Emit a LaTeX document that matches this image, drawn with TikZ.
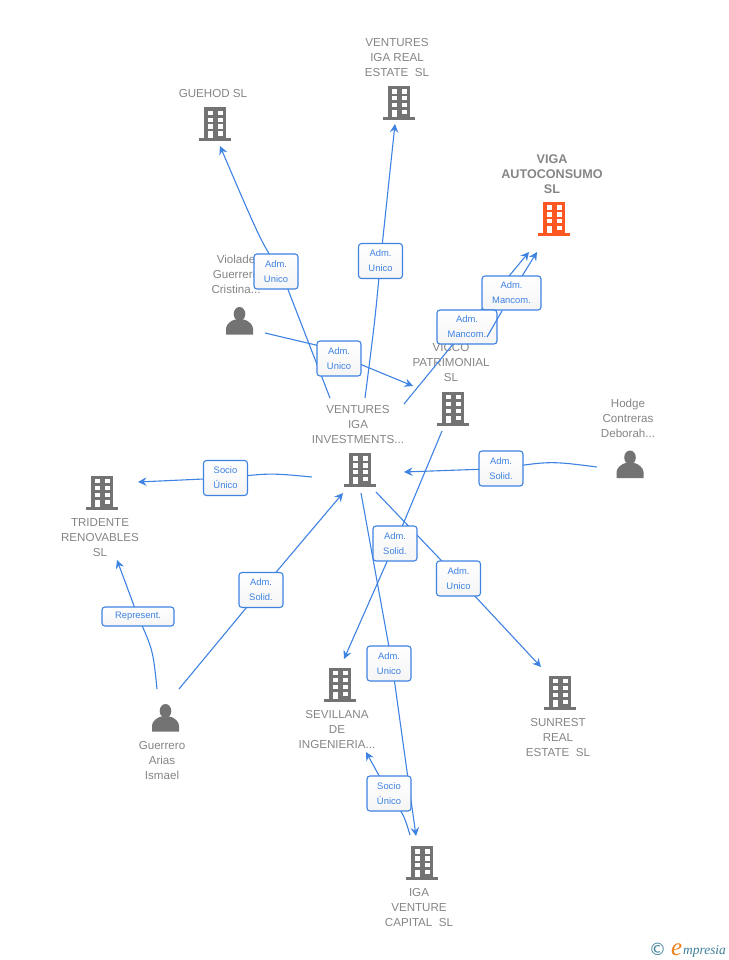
\documentclass[tikz,border=0pt]{standalone}
\usepackage{fontspec}
\setmainfont{Liberation Sans}
\newfontfamily\logofont{Liberation Serif}
\newfontfamily\symfont{DejaVu Sans}
\usepackage{xcolor}
\usetikzlibrary{backgrounds,arrows.meta}
\definecolor{egblue}{RGB}{62,130,226}
\definecolor{eggray}{RGB}{133,133,133}
\definecolor{egicon}{RGB}{115,115,115}
\definecolor{egorange}{RGB}{255,87,34}
\definecolor{eglogo}{RGB}{60,125,150}
\definecolor{eglogoe}{RGB}{240,130,30}

\begin{document}
\begin{tikzpicture}[x=1pt, y=-1pt,
    company/.style={font=\fontsize{11.6}{15}\selectfont, text=eggray, align=center, inner sep=0pt},
    mainco/.style={font=\fontsize{12.6}{15}\selectfont\bfseries, text=eggray, align=center, inner sep=0pt},
    role/.style={rectangle, rounded corners=3pt, draw=egblue, line width=1.1pt, top color=white, bottom color=black!4,
        minimum width=44pt, minimum height=35pt, inner sep=0pt, align=center, text=egblue, font=\fontsize{9.4}{15}\selectfont},
    relationship/.style={-{Stealth[length=8.5pt,width=8.5pt,inset=3pt]}, line width=1.1pt, egblue},
    plainrel/.style={line width=1.1pt, egblue},
    building/.style={minimum width=32pt, minimum height=34pt, inner sep=0pt, path picture={
        \fill[#1] ([xshift=5pt,yshift=3pt]path picture bounding box.south west) rectangle ([xshift=-5pt]path picture bounding box.north east);
        \fill[#1] (path picture bounding box.south west) rectangle ([yshift=3pt]path picture bounding box.south east);
        \foreach \wy/\wh in {3.4/4.2, 10.3/4.2, 17/4.2} {
            \fill[white] ([xshift=8.5pt,yshift=-\wy pt]path picture bounding box.north west) rectangle ++(5pt,-\wh pt);
            \fill[white] ([xshift=18.5pt,yshift=-\wy pt]path picture bounding box.north west) rectangle ++(5pt,-\wh pt);
        }
        \fill[white] ([xshift=8.5pt,yshift=-24pt]path picture bounding box.north west) rectangle ++(5pt,-7pt);
        \fill[white] ([xshift=18.5pt,yshift=-24pt]path picture bounding box.north west) rectangle ++(5pt,-4.2pt);
    }},
    person/.style={minimum width=28pt, minimum height=28pt, inner sep=0pt, path picture={
        \fill[egicon] ([yshift=-7.5pt]path picture bounding box.north) ellipse [x radius=5.8pt, y radius=7pt];
        \fill[egicon] ([xshift=.5pt]path picture bounding box.south west) -- ++(0,6pt)
            .. controls +(0,4pt) and +(-4pt,-1pt) .. ++(9pt,9pt) -- ++(9pt,0)
            .. controls +(4pt,-1pt) and +(0,4pt) .. ++(9pt,-9pt) -- ++(0,-6pt) -- cycle;
    }}]

\useasboundingbox (0,0) rectangle (728,960);

% Role boxes
\node[role] (unicoguehod) at (276,271.5) {Adm.~\\Unico};
\node[role] (unicoreal) at (380.5,261) {Adm.~\\Unico};
\node[role] (unicoviolade) at (339,358.5) {Adm.~\\Unico};
\node[role, minimum width=59pt, minimum height=34pt] (mancomtop) at (511.5,293) {Adm.~\\Mancom.};
\node[role, minimum width=60pt, minimum height=34pt] (mancomlow) at (467,327) {Adm.~\\Mancom.};
\node[role] (solidhodge) at (501,468.5) {Adm.~\\Solid.};
\node[role] (sociotrid) at (225.5,478) {Socio\\Único};
\node[role] (solidguer) at (261,590) {Adm.~\\Solid.};
\node[role, minimum width=72pt, minimum height=19pt] (represent) at (138,616.5) {Represent.};
\node[role] (solidvicco) at (395,543.5) {Adm.~\\Solid.};
\node[role] (unicosun) at (458.5,578.5) {Adm.~\\Unico};
\node[role] (unicoiga) at (389,663.5) {Adm.~\\Unico};
\node[role] (socioiga) at (389,793.5) {Socio\\Único};

\begin{scope}[on background layer]
% Names
\node[company] (guehodtxt) at (213,94) {GUEHOD SL};
\node[company] (realtxt) at (397,58) {VENTURES\\IGA REAL\\ESTATE\ \ SL};
\node[mainco] (vigatxt) at (552,174) {VIGA\\AUTOCONSUMO\\SL};
\node[company] (violadetxt) at (236,274) {Violade\\Guerrero\\Cristina...};
\node[company] (viccotxt) at (451,363) {VICCO\\PATRIMONIAL\\SL};
\node[company] (venturestxt) at (358,425) {VENTURES\\IGA\\INVESTMENTS...};
\node[company] (hodgetxt) at (628,418) {Hodge\\Contreras\\Deborah...};
\node[company] (tridentetxt) at (100,538) {TRIDENTE\\RENOVABLES\\SL};
\node[company] (sevillanatxt) at (337,729.5) {SEVILLANA\\DE\\INGENIERIA...};
\node[company] (sunresttxt) at (558,737.5) {SUNREST\\REAL\\ESTATE\ \ SL};
\node[company] (igatxt) at (419,907.5) {IGA\\VENTURE\\CAPITAL\ \ SL};
\node[company] (guerrerotxt) at (162,760.5) {Guerrero\\Arias\\Ismael};

% Icons
\node[building=egicon] (guehod) at (215,124.5) {};
\node[building=egicon] (real) at (399,103) {};
\node[building=egorange] (viga) at (554,219) {};
\node[building=egicon] (vicco) at (453,408.5) {};
\node[building=egicon] (ventures) at (360,470) {};
\node[building=egicon] (tridente) at (102,492.5) {};
\node[building=egicon] (sevillana) at (340,684.5) {};
\node[building=egicon] (sunrest) at (560,692.5) {};
\node[building=egicon] (iga) at (422,863) {};
\node[person] (violade) at (239.5,320.5) {};
\node[person] (hodge) at (630,464) {};
\node[person] (guerrero) at (165.5,717.5) {};

% Connector ends
\coordinate (ventguehod) at (330,398);
\coordinate (ventreal) at (365,398);
\coordinate (ventviga) at (404,404);
\coordinate (venttrid) at (312,477);
\coordinate (ventiga) at (361,493);
\coordinate (ventsun) at (376,492);
\coordinate (ventin) at (343,493);
\coordinate (venthodge) at (404,472);
\coordinate (guehodin) at (220,146);
\coordinate (realin) at (395,124);
\coordinate (violout) at (265,333);
\coordinate (viccoin) at (413,386);
\coordinate (viccoout) at (442,431);
\coordinate (vigain) at (529,252);
\coordinate (vigainb) at (537,252);
\coordinate (hodgeout) at (597,467);
\coordinate (tridin) at (138,482);
\coordinate (tridrep) at (117,560);
\coordinate (guerone) at (179,689);
\coordinate (guertwo) at (157,689);
\coordinate (sevin) at (344,659);
\coordinate (sevsocio) at (366,752);
\coordinate (igaout) at (410,835);
\coordinate (igain) at (416,836);
\coordinate (sunin) at (541,667);

% Connections
\draw[plainrel] (ventguehod) -- ([xshift=5pt]unicoguehod.center);
\draw[relationship] ([xshift=5pt]unicoguehod.center) .. controls (262,244) .. (guehodin);
\draw[plainrel] (ventreal) .. controls (375,320) .. (unicoreal.center);
\draw[relationship] (unicoreal.center) -- (realin);
\draw[plainrel] (violout) -- ([yshift=8pt]unicoviolade.center);
\draw[relationship] ([yshift=3pt]unicoviolade.center) -- (viccoin);
\draw[plainrel] (ventviga) -- (mancomlow.center);
\draw[plainrel] (mancomlow.center) -- ([xshift=-16.5pt]mancomtop.center);
\draw[relationship] ([xshift=-16.5pt]mancomtop.center) -- (vigain);
\draw[relationship] (mancomtop.center) -- (vigainb);
\draw[plainrel] (hodgeout) .. controls (550,461) .. (solidhodge.center);
\draw[relationship] (solidhodge.center) -- (venthodge);
\draw[plainrel] (venttrid) .. controls (270,473) .. (sociotrid.center);
\draw[relationship] (sociotrid.center) -- (tridin);
\draw[plainrel] (guerone) -- (solidguer.center);
\draw[relationship] (solidguer.center) -- (ventin);
\draw[plainrel] (guertwo) .. controls (153,650) .. (represent.center);
\draw[relationship] (represent.center) -- (tridrep);
\draw[plainrel] (viccoout) -- (solidvicco.center);
\draw[relationship] (solidvicco.center) -- (sevin);
\draw[plainrel] (ventiga) -- ([xshift=3pt]unicoiga.center);
\draw[relationship] ([xshift=3pt]unicoiga.center) -- (igain);
\draw[plainrel] (ventsun) -- (unicosun.center);
\draw[relationship] (unicosun.center) -- (sunin);
\draw[plainrel] (igaout) .. controls (404,815) .. (socioiga.center);
\draw[relationship] (socioiga.center) -- (sevsocio);
\end{scope}

% Second line over the lower box
\coordinate (mancomout) at (487,337);
\draw[plainrel] (mancomout) -- (mancomtop.-118);

% Logo
\node[inner sep=0pt, text=eglogo, font=\fontsize{17}{17}\selectfont\symfont] (logomark) at (657.5,949) {©};
\node[inner sep=0pt, text=eglogoe, font=\fontsize{25}{25}\selectfont\logofont\itshape, anchor=base west] (logoe) at (671,955) {e};
\node[inner sep=0pt, text=eglogo, font=\fontsize{13.4}{14}\selectfont\logofont\itshape, anchor=base west] (logotxt) at (683,954) {mpresia};
\end{tikzpicture}
\end{document}
